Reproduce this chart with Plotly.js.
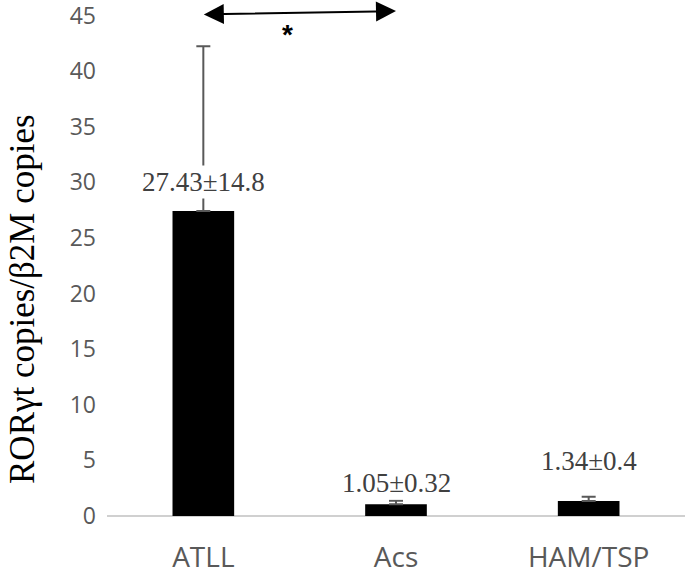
<!DOCTYPE html>
<html>
<head>
<meta charset="utf-8">
<script src="https://cdn.plot.ly/plotly-3.0.1.min.js"></script>
<style>html,body{margin:0;padding:0;background:#fff;}#chart{width:685px;height:574px;}</style>
</head>
<body>
<div id="chart"></div>
<script>
const categories = ["ATLL", "Acs", "HAM/TSP"];
const means = [27.43, 1.05, 1.34];
const sds = [14.8, 0.32, 0.4];
const valueLabels = ["27.43±14.8", "1.05±0.32", "1.34±0.4"];
const labelY = [30.0, 2.97, 4.95];
const yTitle = "RORγt copies/β2M copies";
const yTicks = [0, 5, 10, 15, 20, 25, 30, 35, 40, 45];

const trace = {
  type: "bar",
  x: categories,
  y: means,
  width: 0.32,
  marker: {color: "#000000", line: {width: 0}},
  error_y: {
    type: "data",
    array: sds,
    arrayminus: means.map(() => 0),
    symmetric: false,
    color: "#595959",
    thickness: 2,
    width: 7
  },
  hoverinfo: "none"
};

const annotations = categories.map((c, i) => ({
  x: i, y: labelY[i], xref: "x", yref: "y",
  text: valueLabels[i], showarrow: false,
  font: {family: "Liberation Serif, Times New Roman, serif", size: 27, color: "#404040"},
  bgcolor: "#ffffff",
  xanchor: "center", yanchor: "middle"
}));

annotations.push({
  x: 1, y: 45.4, xref: "x", yref: "y",
  ax: 0, ay: 45.1, axref: "x", ayref: "y",
  text: " ", showarrow: true,
  font: {size: 1},
  borderpad: 0,
  arrowside: "end+start",
  arrowhead: 2, startarrowhead: 2,
  arrowsize: 2, startarrowsize: 2,
  arrowwidth: 2, arrowcolor: "#000000",
  standoff: 0, startstandoff: 0
});
annotations.push({
  x: 0.435, y: 43.3, xref: "x", yref: "y",
  text: "<b>*</b>", showarrow: false,
  font: {family: "Liberation Sans, Arial, sans-serif", size: 28, color: "#000000"},
  xanchor: "center", yanchor: "middle"
});
annotations.push({
  x: -0.1453, y: 0.4289, xref: "paper", yref: "paper",
  text: yTitle, showarrow: false, textangle: -90,
  font: {family: "Liberation Serif, Times New Roman, serif", size: 35, color: "#000000"},
  xanchor: "center", yanchor: "middle"
});

const layout = {
  width: 685, height: 574,
  margin: {l: 107, r: 0, t: 10, b: 58},
  paper_bgcolor: "#ffffff", plot_bgcolor: "#ffffff",
  showlegend: false,
  xaxis: {
    type: "category",
    tickfont: {family: "Open Sans, sans-serif", size: 28, color: "#595959"},
    showgrid: false, showline: false, zeroline: false, ticks: "",
    ticklabelstandoff: 22
  },
  yaxis: {
    range: [0, 45.5],
    tickvals: yTicks,
    ticktext: yTicks.map(String),
    tickfont: {family: "Open Sans, sans-serif", size: 23, color: "#595959"},
    showgrid: false, showline: false,
    zeroline: true, zerolinecolor: "#d0d0d0", zerolinewidth: 2,
    ticks: "", ticklabelstandoff: 10,
    ticklabeloverflow: "allow"
  },
  annotations: annotations
};

Plotly.newPlot("chart", [trace], layout, {displayModeBar: false, staticPlot: true});
</script>
</body>
</html>
